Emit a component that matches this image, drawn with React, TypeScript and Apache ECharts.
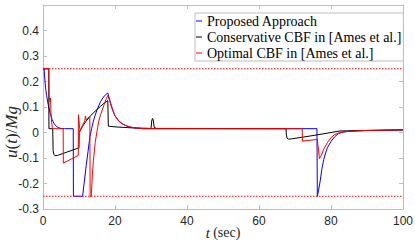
import React, { useEffect, useRef } from 'react';
import * as echarts from 'echarts';

const seriesNames = ['Proposed Approach', 'Conservative CBF in [Ames et al.]', 'Optimal CBF in [Ames et al.]'];
const seriesColors = ['#0000ff', '#000000', '#ff0000'];

const proposed: [number, number][] = [
  [0, 0.25], [0.3, 0.25], [0.5, 0.21], [0.75, 0.17], [1, 0.145], [1.5, 0.105], [2, 0.075], [2.5, 0.052],
  [3, 0.037], [3.5, 0.027], [4, 0.021], [4.5, 0.018], [5, 0.016], [6, 0.015], [8.4, 0.015],
  [8.45, -0.25], [11, -0.25], [11.5, -0.19], [12, -0.13], [12.5, -0.075], [13, -0.02], [13.5, 0.015],
  [14, 0.045], [14.5, 0.068], [15, 0.088], [16, 0.122], [17, 0.143], [18, 0.155], [18.1, 0.155],
  [18.5, 0.13], [19, 0.105], [19.5, 0.084], [20, 0.066], [21, 0.046], [22, 0.035], [23, 0.027],
  [24, 0.022], [26, 0.017], [28, 0.015], [76.1, 0.015], [76.2, -0.25], [76.5, -0.23], [77, -0.19],
  [77.5, -0.14], [78, -0.105], [78.5, -0.08], [79, -0.06], [80, -0.035], [81, -0.017], [82, -0.005],
  [83, 0.001], [85, 0.005], [90, 0.008], [100, 0.01],
];

const conservative: [number, number][] = [
  [0, 0.25], [1.6, 0.25], [1.65, 0.015], [2.7, 0.015], [2.8, -0.07], [3, -0.085], [3.3, -0.091],
  [4, -0.09], [10, -0.06], [10.05, 0.0], [11, 0.025], [12, 0.045], [13, 0.062], [14, 0.077],
  [15, 0.09], [16, 0.103], [17, 0.115], [18, 0.125], [18.1, 0.125], [18.15, 0.025], [20, 0.022],
  [25, 0.018], [30, 0.016], [30.2, 0.045], [30.4, 0.055], [30.6, 0.05], [30.9, 0.02], [31.5, 0.016],
  [67.5, 0.015], [67.6, -0.01], [67.8, -0.022], [68.2, -0.026], [69, -0.025], [75, -0.012],
  [80, 0.0], [82.5, 0.006], [90, 0.008], [100, 0.01],
];

const optimal: [number, number][] = [
  [0, 0.25], [1.6, 0.25], [1.7, 0.14], [2.0, 0.12], [2.1, 0.135], [2.2, 0.08], [2.4, 0.04],
  [2.6, 0.02], [2.8, 0.015], [5.6, 0.015], [5.65, -0.12], [9.8, -0.09], [9.85, 0.07], [10.1, 0.03],
  [10.3, 0.005], [11, 0.03], [11.6, 0.045], [11.8, 0.065], [12.0, 0.05], [12.5, 0.058], [13.0, 0.062],
  [13.1, -0.25], [13.4, -0.25], [13.7, -0.17], [14, -0.11], [14.5, -0.04], [15, 0.005], [15.5, 0.045],
  [16, 0.07], [17, 0.11], [17.5, 0.13], [18, 0.145], [18.1, 0.145], [18.5, 0.125], [19, 0.1],
  [19.5, 0.082], [20, 0.065], [21, 0.045], [22, 0.034], [23, 0.027], [24, 0.022], [26, 0.017],
  [28, 0.015], [72, 0.015], [72.05, -0.034], [76.2, -0.027], [76.8, -0.103], [77.3, -0.09],
  [78, -0.065], [79, -0.04], [80, -0.02], [81, -0.008], [82.5, 0.0], [85, 0.005], [90, 0.008], [100, 0.01],
];

const limitLevels = [0.25, -0.25];
const xRange = [0, 100];
const xInterval = 20;
const yRange = [-0.3, 0.5];
const yInterval = 0.1;

const axisGray = '#bdbdbd';
const labelColor = '#262626';

export default function App() {
  const ref = useRef<HTMLDivElement>(null);
  useEffect(() => {
    if (!ref.current) return;
    const chart = echarts.init(ref.current, null, { renderer: 'svg' });
    const yFmt = (v: number) => {
      const r = Math.round(v * 10) / 10;
      if (Math.abs(r - yRange[1]) < 1e-9) return '';
      return r === 0 ? '0' : r.toFixed(1);
    };
    const baseAxis = {
      axisLine: { show: true, onZero: false, lineStyle: { color: axisGray, width: 1 } },
      axisTick: { show: true, inside: true, length: 4, lineStyle: { color: axisGray } },
      splitLine: { show: false },
    };
    const dataSeries = [proposed, conservative, optimal].map((d, i) => ({
      name: seriesNames[i],
      type: 'line',
      data: d,
      showSymbol: false,
      symbol: 'none',
      lineStyle: { color: seriesColors[i], width: 1 },
      itemStyle: { color: seriesColors[i] },
      z: 2 + i,
    }));
    const limitSeries = limitLevels.map((lv, i) => ({
      name: 'limit' + i,
      type: 'line',
      data: [[xRange[0], lv], [xRange[1], lv]],
      showSymbol: false,
      symbol: 'none',
      silent: true,
      lineStyle: { color: '#ff0000', width: 1, type: [1.5, 1.5] },
      z: 6,
    }));
    chart.setOption({
      animation: false,
      backgroundColor: '#ffffff',
      grid: { left: 43, right: 12, top: 5, bottom: 34, containLabel: false, outerBoundsMode: 'none' },
      xAxis: [
        {
          ...baseAxis,
          type: 'value', min: xRange[0], max: xRange[1], interval: xInterval, position: 'bottom',
          axisLabel: { color: labelColor, fontFamily: 'Liberation Sans', fontSize: 12, margin: 6 },
          name: '{i|t} {r|(sec)}',
          nameLocation: 'middle',
          nameGap: 16,
          nameMoveOverlap: false,
          nameTextStyle: {
            color: labelColor,
            rich: {
              i: { fontFamily: 'Liberation Serif', fontStyle: 'italic', fontSize: 15, color: labelColor },
              r: { fontFamily: 'Liberation Serif', fontSize: 14, color: labelColor },
            },
          },
        },
        {
          ...baseAxis,
          type: 'value', min: xRange[0], max: xRange[1], interval: xInterval, position: 'top',
          axisLabel: { show: false },
        },
      ],
      yAxis: [
        {
          ...baseAxis,
          type: 'value', min: yRange[0], max: yRange[1], interval: yInterval, position: 'left',
          axisLabel: { color: labelColor, fontFamily: 'Liberation Sans', fontSize: 12, margin: 4, formatter: yFmt },
        },
        {
          ...baseAxis,
          type: 'value', min: yRange[0], max: yRange[1], interval: yInterval, position: 'right',
          axisLabel: { show: false },
        },
      ],
      legend: {
        data: seriesNames,
        left: 195,
        top: 13,
        orient: 'vertical',
        itemGap: 0,
        itemWidth: 6,
        itemHeight: 1,
        icon: 'rect',
        padding: [0, 2, 0, 1],
        borderColor: axisGray,
        borderWidth: 1,
        backgroundColor: '#ffffff',
        textStyle: { fontFamily: 'Liberation Serif', fontSize: 14, color: '#000', lineHeight: 16 },
      },
      graphic: [
        {
          type: 'text',
          x: 11,
          y: 132,
          rotation: Math.PI / 2,
          style: {
            text: '{i|u}{r|(}{i|t}{r|)/}{i|Mg}',
            align: 'center',
            verticalAlign: 'middle',
            rich: {
              i: { fontFamily: 'Liberation Serif', fontStyle: 'italic', fontSize: 17, fill: labelColor },
              r: { fontFamily: 'Liberation Serif', fontSize: 17, fill: labelColor },
            },
          },
        },
      ],
      series: [...dataSeries, ...limitSeries],
    });
    return () => chart.dispose();
  }, []);
  return <div ref={ref} style={{ position: 'absolute', left: 0, top: 0, width: 415, height: 243 }} />;
}
